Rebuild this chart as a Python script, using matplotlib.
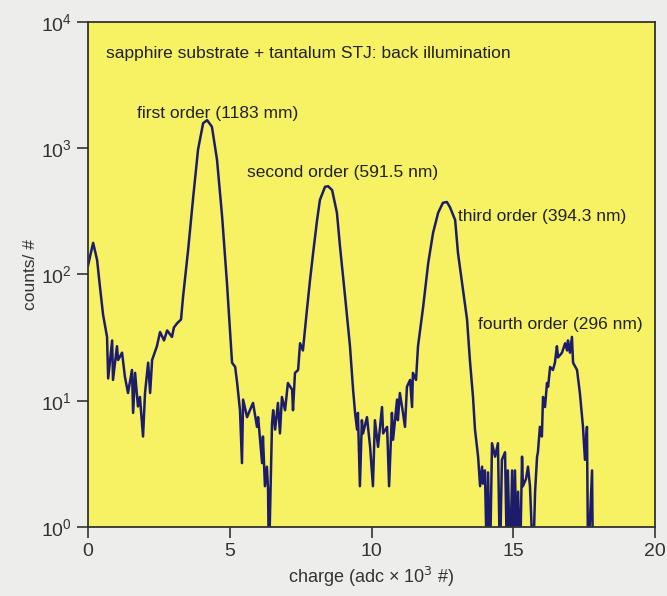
import matplotlib
matplotlib.use("Agg")
import matplotlib.pyplot as plt

# spectrum: charge (adc x 10^3 #) and counts
charge = [0.0, 0.18, 0.32, 0.42, 0.53, 0.67,
          0.71, 0.85, 0.88, 1.02, 1.06, 1.20, 1.30, 1.41, 1.55, 1.59, 1.66,
          1.76, 1.83, 1.94, 2.01, 2.12, 2.19, 2.26, 2.43, 2.54, 2.68, 2.79,
          2.96, 3.03, 3.14,
          3.28, 3.35, 3.53, 3.70, 3.88, 4.06, 4.20, 4.37, 4.55, 4.73, 4.90,
          5.08, 5.19, 5.26, 5.36, 5.43, 5.47, 5.61, 5.71, 5.82, 5.96, 6.00,
          6.14, 6.17, 6.24, 6.31, 6.35, 6.38, 6.49, 6.53, 6.60, 6.70, 6.77,
          6.84, 6.95, 7.05, 7.20, 7.23, 7.30, 7.41, 7.48, 7.58,
          7.72, 7.83, 7.94, 8.08, 8.18, 8.36, 8.47, 8.61, 8.78, 8.89, 9.07,
          9.24, 9.35, 9.42,
          9.49, 9.52, 9.59, 9.66, 9.70, 9.84, 9.95, 10.05, 10.12, 10.23,
          10.37, 10.41, 10.55, 10.62, 10.72, 10.76, 10.90, 10.93, 11.00,
          11.11, 11.18, 11.25, 11.36, 11.43, 11.46, 11.57,
          11.64, 11.82, 12.00, 12.17, 12.35, 12.52, 12.66, 12.77, 12.95,
          13.05, 13.37, 13.47, 13.58, 13.65,
          13.76, 13.83, 13.90, 13.93, 14.00, 14.07, 14.11, 14.18, 14.25,
          14.36, 14.46, 14.53, 14.60, 14.71, 14.78, 14.81, 14.89, 14.96,
          14.99, 15.06, 15.13, 15.17, 15.24, 15.31, 15.34, 15.45, 15.52,
          15.59, 15.70, 15.77, 15.84, 15.87, 15.94, 16.01, 16.05, 16.12,
          16.19, 16.23, 16.30, 16.40, 16.47, 16.54, 16.58, 16.72, 16.83,
          16.90, 16.93, 17.00, 17.07, 17.11, 17.25, 17.35, 17.46, 17.53,
          17.60, 17.64, 17.78, 17.81]
counts = [118, 178, 130, 80, 48, 32,
          15, 30, 14.6, 27, 21, 24, 15.5, 11.5, 17.5, 8, 16.6,
          9, 10.7, 5.2, 11.5, 20, 11.5, 21, 27, 35, 30, 36,
          32, 38, 41,
          44, 66, 156, 390, 975, 1580, 1670, 1480, 810, 287, 86,
          20, 18.5, 13.8, 8.4, 3.2, 10.2, 7.4, 8.4, 9.6, 6.2, 7.4,
          3.2, 5.2, 2.1, 3.0, 2.0, 0.5, 6.6, 8.4, 5.9, 9.6, 5.5,
          10.7, 8.4, 13.8, 12.2, 8.4, 16.6, 17.5, 28.5, 25,
          52, 90, 148, 270, 390, 495, 500, 466, 308, 165, 66,
          27, 12.2, 8.0,
          5.9, 8.0, 2.1, 7.0, 5.5, 7.4, 4.3, 2.1, 7.0, 4.3,
          8.9, 5.5, 6.2, 2.1, 8.0, 4.9, 10.2, 7.0, 11.5,
          8.0, 6.2, 12.9, 14.6, 8.9, 16.6, 14.6,
          27, 55, 123, 213, 308, 370, 375, 340, 270,
          148, 44, 21, 10.7, 5.9,
          3.6, 2.1, 3.0, 2.2, 2.8, 0.5, 2.7, 0.5, 4.6,
          3.6, 4.6, 0.5, 3.4, 3.9, 0.5, 2.8, 0.5, 2.8,
          0.5, 2.8, 0.5, 1.9, 0.5, 3.6, 2.1, 2.4, 3.0,
          2.1, 0.5, 1.9, 3.6, 3.9, 6.2, 5.2, 10.7, 8.9,
          13.8, 12.9, 18.5, 17.5, 20, 27, 22, 24, 28.5,
          25, 30, 24, 32, 20, 17.5, 11.5, 6.2, 3.4,
          6.2, 0.5, 2.8, 0.5]

title_txt = "sapphire substrate + tantalum STJ: back illumination"
peak_labels = ["first order (1183 mm)", "second order (591.5 nm)",
               "third order (394.3 nm)", "fourth order (296 nm)"]
label_x = [1.73, 5.6, 13.05, 13.76]
label_y = [1900, 640, 290, 40]

plt.rcParams['font.family'] = ['Liberation Sans', 'DejaVu Sans']

fig = plt.figure(figsize=(6.67, 5.96), dpi=100)
fig.patch.set_facecolor('#ededeb')
ax = fig.add_axes([0.132, 0.116, 0.85, 0.847])
ax.set_facecolor('#f6f263')

ax.plot(charge, counts, color='#1c1c6b', linewidth=1.8)

ax.set_yscale('log')
ax.set_xlim(0, 20)
ax.set_ylim(1, 1e4)
ax.set_xticks([0, 5, 10, 15, 20])
ax.set_yticks([1, 10, 100, 1000, 10000])
ax.minorticks_off()
ax.tick_params(direction='out', length=8, width=1.2, labelsize=14,
               colors='#333333', labelcolor='#333333')
for s in ax.spines.values():
    s.set_color('#333333')
    s.set_linewidth(1.3)

ax.set_xlabel("charge (adc \u00d7 10$^3$ #)", fontsize=13, color='#333333')
ax.set_ylabel("counts/ #", fontsize=12.5, color='#333333', labelpad=2)

ax.text(0.64, 5600, title_txt, fontsize=12.5, color='#222222', va='center')
for t, x, y in zip(peak_labels, label_x, label_y):
    ax.text(x, y, t, fontsize=12.5, color='#222222', va='center')

fig.savefig("out.png", dpi=100, facecolor=fig.get_facecolor())
